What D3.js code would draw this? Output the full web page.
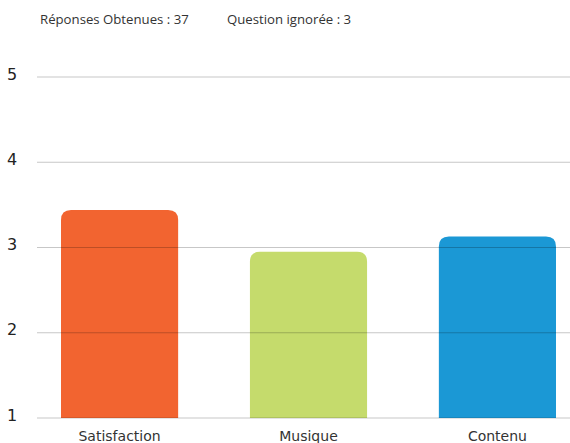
<html>
<head>
<style>
  body { margin: 0; background: #fff; }
  text { font-family: "DejaVu Sans", sans-serif; }
</style>
</head>
<body>
<script src="https://d3js.org/d3.v7.min.js" charset="utf-8"></script>
<script type="text/javascript">

// data
var categories = ["Satisfaction", "Musique", "Contenu"];
var scores = [3.44, 2.95, 3.13];
var barColors = ["#F26430", "#C5DB6C", "#1B98D5"];
var yTicks = [1, 2, 3, 4, 5];
var answered = 37;
var skipped = 3;

var width = 570, height = 443;

var svg = d3.select("body").append("svg")
    .attr("width", width)
    .attr("height", height);

// scales
var x = d3.scaleBand()
    .domain(categories)
    .range([27, 590])
    .paddingInner(0.38)
    .paddingOuter(0.18);

var y = d3.scaleLinear()
    .domain([1, 5])
    .range([418, 77]);

// header
svg.append("text")
    .attr("x", 40).attr("y", 24)
    .style("font-family", "'Open Sans', sans-serif")
    .style("font-size", "13.2px")
    .attr("fill", "#333")
    .text("Réponses Obtenues : " + answered);

svg.append("text")
    .attr("x", 227).attr("y", 24)
    .style("font-family", "'Open Sans', sans-serif")
    .style("font-size", "13.2px")
    .attr("fill", "#333")
    .text("Question ignorée : " + skipped);

// bars with rounded top corners
var r = 10;
svg.append("g").selectAll("path")
    .data(categories)
    .enter().append("path")
    .attr("fill", function(d, i) { return barColors[i]; })
    .attr("d", function(d, i) {
        var x0 = x(d), w = x.bandwidth(), yt = y(scores[i]), yb = y(1);
        return "M" + x0 + "," + yb +
            "V" + (yt + r) +
            "Q" + x0 + "," + yt + " " + (x0 + r) + "," + yt +
            "H" + (x0 + w - r) +
            "Q" + (x0 + w) + "," + yt + " " + (x0 + w) + "," + (yt + r) +
            "V" + yb + "Z";
    });

// grid lines on top
var grid = svg.append("g");
grid.selectAll("line")
    .data(yTicks)
    .enter().append("line")
    .attr("x1", 37).attr("x2", width)
    .attr("y1", function(d) { return y(d); })
    .attr("y2", function(d) { return y(d); })
    .attr("stroke", "#000")
    .attr("stroke-opacity", 0.22)
    .attr("stroke-width", 1);

// y labels
svg.append("g").selectAll("text")
    .data(yTicks)
    .enter().append("text")
    .attr("x", 12)
    .attr("y", function(d) { return y(d) - 3; })
    .attr("dy", "0.35em")
    .attr("text-anchor", "middle")
    .style("font-size", "16px")
    .attr("fill", "#222")
    .text(function(d) { return d; });

// x labels
svg.append("g").selectAll("text")
    .data(categories)
    .enter().append("text")
    .attr("x", function(d) { return x(d) + x.bandwidth() / 2; })
    .attr("y", 441)
    .attr("text-anchor", "middle")
    .style("font-size", "14px")
    .attr("fill", "#333")
    .text(function(d) { return d; });

</script>
</body>
</html>
